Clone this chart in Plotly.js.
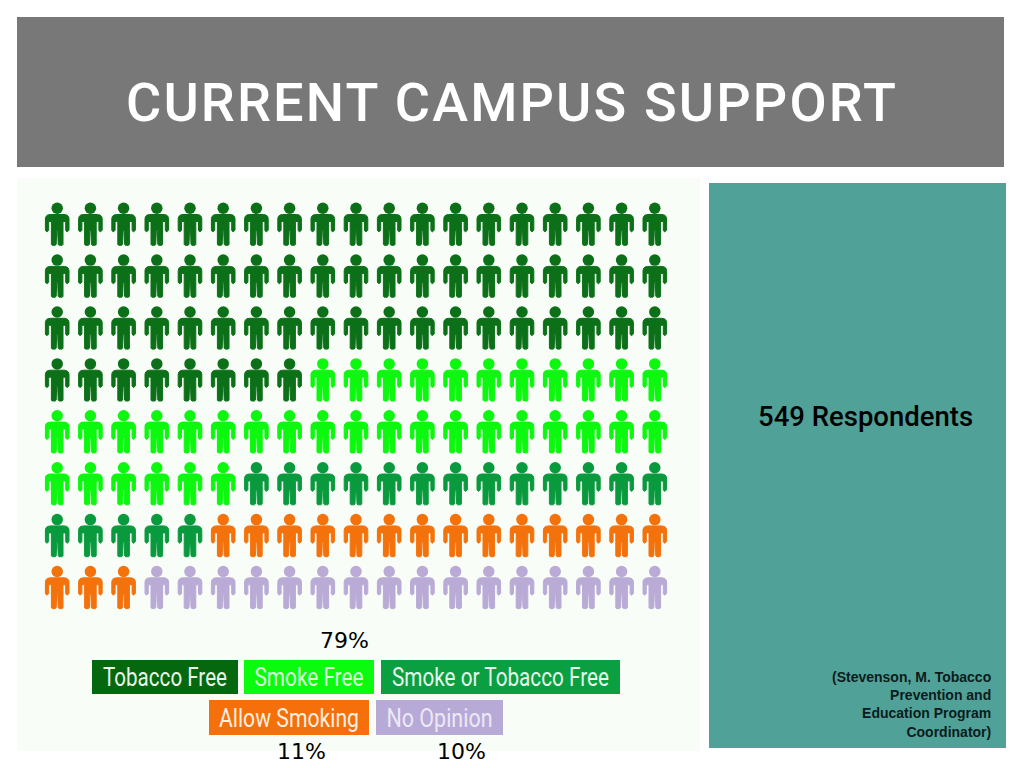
<!DOCTYPE html>
<html>
<head>
<meta charset="utf-8">
<script src="https://cdn.plot.ly/plotly-3.0.1.min.js"></script>
<style>
  html, body { margin: 0; padding: 0; background: #fff; }
  #chart { width: 1024px; height: 768px; }
</style>
</head>
<body>
<div id="chart"></div>
<script>
// data
var categories = ['Tobacco Free', 'Smoke Free', 'Smoke or Tobacco Free', 'Allow Smoking', 'No Opinion'];
var peopleCounts = [65, 36, 18, 17, 16];
var peopleColors = ['#0c7018', '#0cf80f', '#0a9a3e', '#f4720c', '#b9abd6'];
var boxColors = ['#05680f', '#0bfb0e', '#0a9f40', '#f56f0a', '#b8aad6'];
var textColors = ['#e8f5e8', '#d8ffd8', '#e4f7ea', '#fff0e0', '#ece8f6'];
var percentLabels = ['79%', '11%', '10%'];
var columnsPerRow = 19;

// page layout, everything below in page pixels
var W = 1024, H = 768;
var panel = {x0: 17, x1: 700, y0: 178, y1: 751};
var colStep = 33.2, rowStep = 51.9;
var firstCol = 57.2, firstRow = 225;
var legendTextWidths = [124, 109, 217, 140, 106];
var titleWidth = 770;

function px(x) { return x / W; }
function py(y) { return 1 - y / H; }

// right half of the person outline around the body centre, mirrored for the left
var halfBody = [[7, -10.5], [9.5, -10], [11.2, -8.6], [11.8, -6.5], [11.8, 5.2], [11, 6.4], [10, 6.8],
  [9.2, 6.4], [8.5, 5.2], [8.5, -3.5], [5.8, -3.5], [5.8, 19.4], [5, 20.3], [2, 20.3], [1, 19.4], [0.5, 5.5]];
var bodyShape = halfBody.concat(halfBody.slice().reverse().map(function (p) { return [-p[0], p[1]]; }));
var headOffset = -16.8;

var traces = [];
var seat = 0;
categories.forEach(function (name, i) {
  var bx = [], by = [], hx = [], hy = [];
  for (var n = 0; n < peopleCounts[i]; n++, seat++) {
    var col = seat % columnsPerRow, row = Math.floor(seat / columnsPerRow);
    bodyShape.forEach(function (p) {
      bx.push(col + p[0] / colStep);
      by.push(row + p[1] / rowStep);
    });
    bx.push(col + bodyShape[0][0] / colStep, null);
    by.push(row + bodyShape[0][1] / rowStep, null);
    hx.push(col);
    hy.push(row + headOffset / rowStep);
  }
  traces.push({
    x: bx, y: by, mode: 'lines', fill: 'toself', fillcolor: peopleColors[i],
    line: {color: peopleColors[i], width: 1}, hoverinfo: 'skip', showlegend: false
  });
  traces.push({
    x: hx, y: hy, mode: 'markers', name: name,
    marker: {symbol: 'circle', size: 11.5, color: peopleColors[i]}, hoverinfo: 'name', showlegend: false
  });
});

function label(text, x, y, font, anchor, extra) {
  var a = {
    text: text, x: px(x), y: py(y), xref: 'paper', yref: 'paper', showarrow: false,
    xanchor: anchor || 'center', yanchor: 'middle', font: font
  };
  return Object.assign(a, extra || {});
}

function legendBox(i, x0, x1, y0, y1) {
  return {
    text: categories[i], x: px(x0), y: py(y0), xref: 'paper', yref: 'paper', showarrow: false,
    xanchor: 'left', yanchor: 'top', width: x1 - x0, height: y1 - y0, borderpad: 0, borderwidth: 0,
    bgcolor: boxColors[i], align: 'center', valign: 'middle',
    font: {family: 'Roboto, Arial, sans-serif', size: 26, color: textColors[i]}
  };
}

var percentFont = {family: 'DejaVu Sans, sans-serif', size: 22, color: '#000'};

var annotations = [
  legendBox(0, 92, 238, 660, 694),
  legendBox(1, 244, 374, 660, 694),
  legendBox(2, 381, 620, 660, 694),
  legendBox(3, 209, 369, 700, 735),
  legendBox(4, 376, 503, 700, 735),
  label(percentLabels[0], 344, 640, percentFont),
  label(percentLabels[1], 301, 751, percentFont),
  label(percentLabels[2], 461, 751, percentFont),
  label('549 Respondents', 865, 416, {family: 'Roboto, Arial, sans-serif', size: 27.5, color: '#000', weight: 500}),
  label('(Stevenson, M. Tobacco<br>Prevention and<br>Education Program<br>Coordinator)', 993, 704,
    {family: 'Liberation Sans, Arial, sans-serif', size: 14, color: '#0c1c1c', weight: 700}, 'right', {align: 'right'})
];

var layout = {
  width: W, height: H,
  margin: {l: 0, r: 0, t: 0, b: 0},
  paper_bgcolor: '#ffffff',
  plot_bgcolor: '#f8fdf8',
  title: {
    text: 'CURRENT CAMPUS SUPPORT', x: 511 / W, xanchor: 'center', y: py(102), yanchor: 'middle',
    xref: 'paper', yref: 'paper',
    font: {family: 'Roboto, Arial, sans-serif', size: 54, color: '#ffffff', weight: 500}
  },
  xaxis: {
    domain: [px(panel.x0), px(panel.x1)], visible: false, fixedrange: true,
    range: [(panel.x0 - firstCol) / colStep, (panel.x1 - firstCol) / colStep]
  },
  yaxis: {
    domain: [py(panel.y1), py(panel.y0)], visible: false, fixedrange: true,
    range: [(panel.y1 - firstRow) / rowStep, (panel.y0 - firstRow) / rowStep]
  },
  shapes: [
    {type: 'rect', xref: 'paper', yref: 'paper', x0: px(17), x1: px(1004), y0: py(167), y1: py(17),
      fillcolor: '#787878', line: {width: 0}, layer: 'below'},
    {type: 'rect', xref: 'paper', yref: 'paper', x0: px(709), x1: px(1006), y0: py(748), y1: py(183),
      fillcolor: '#50a197', line: {width: 0}, layer: 'below'}
  ],
  annotations: annotations,
  showlegend: false
};

Plotly.newPlot('chart', traces, layout, {displayModeBar: false, responsive: false}).then(function (gd) {
  // no narrow font or letter spacing in plotly, so fit these texts to the reference widths
  var boxTexts = gd.querySelectorAll('.annotation-text');
  legendTextWidths.forEach(function (w, i) {
    boxTexts[i].setAttribute('textLength', w);
    boxTexts[i].setAttribute('lengthAdjust', 'spacingAndGlyphs');
  });
  var title = gd.querySelector('.gtitle');
  title.setAttribute('textLength', titleWidth);
  title.setAttribute('lengthAdjust', 'spacing');
});
</script>
</body>
</html>
